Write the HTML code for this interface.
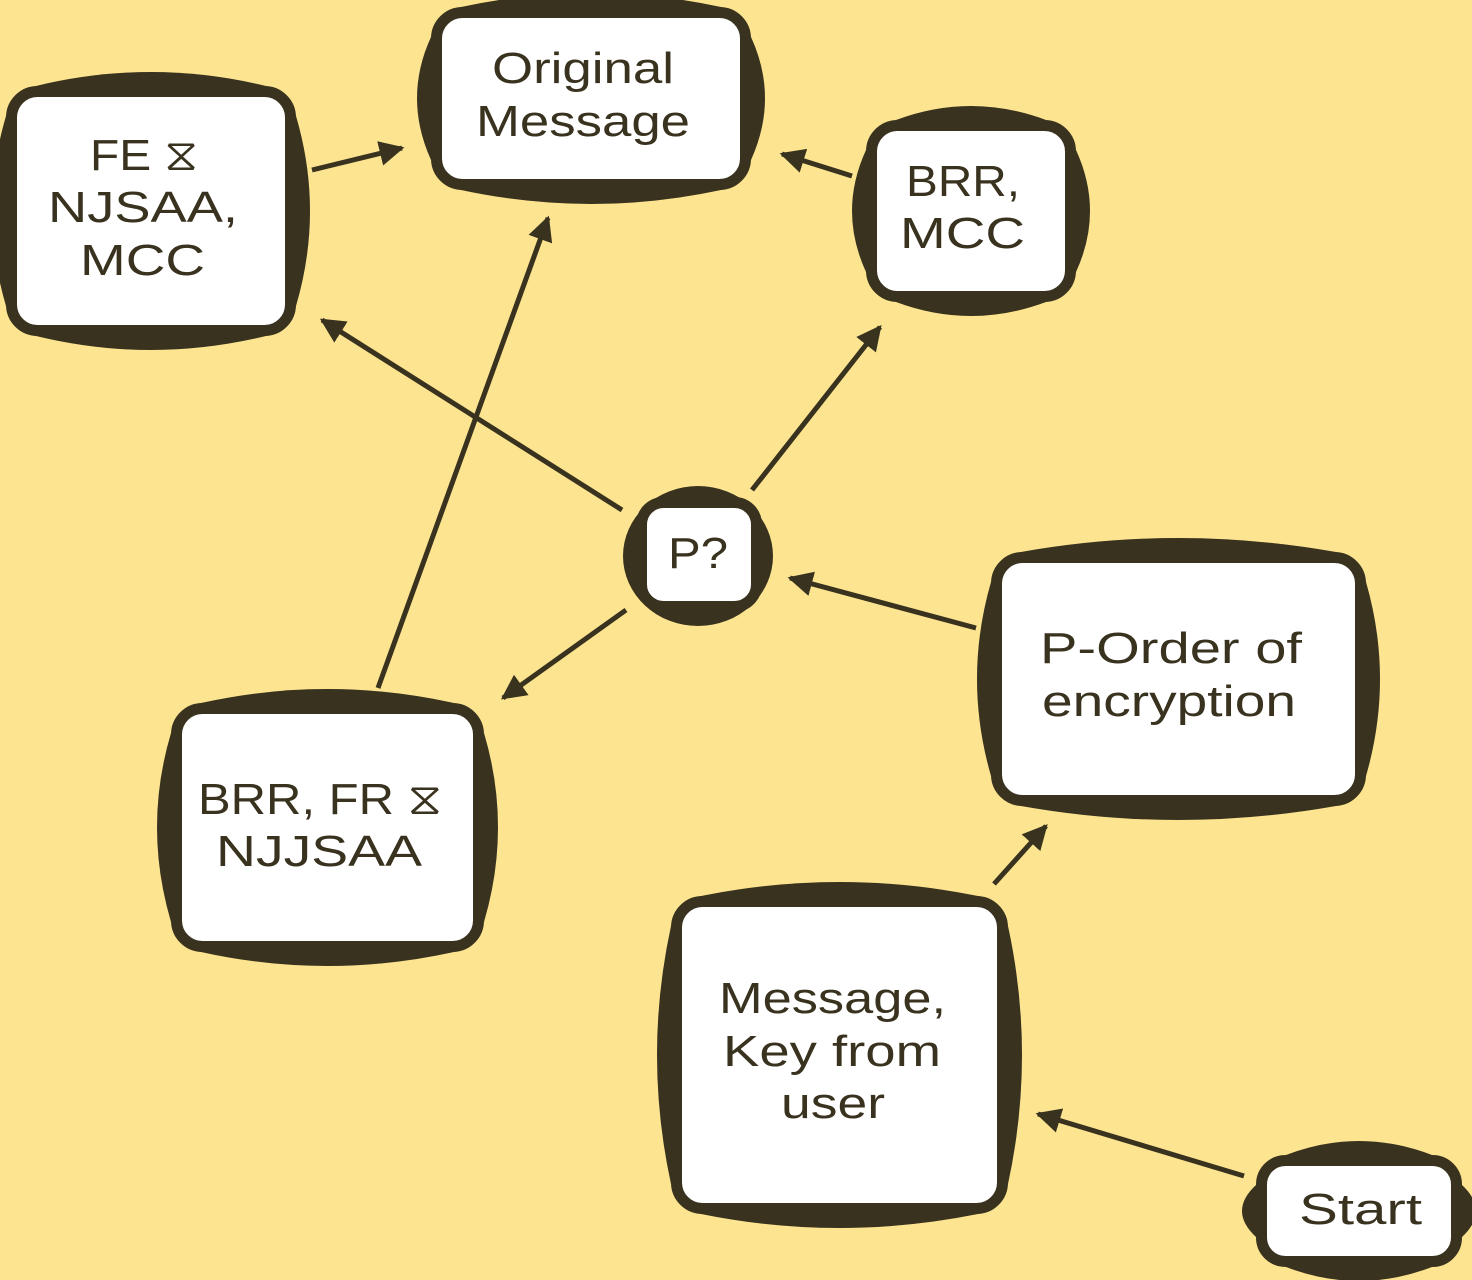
<!DOCTYPE html>
<html><head><meta charset="utf-8"><style>
html,body{margin:0;padding:0;background:#fde490;}
svg{display:block;}
text{font-family:"Liberation Sans","DejaVu Sans",sans-serif;font-size:44px;fill:#38321f;}
</style></head><body>
<svg width="1472" height="1280" viewBox="0 0 1472 1280" xmlns="http://www.w3.org/2000/svg">
<defs>
<marker id="a" markerWidth="6" markerHeight="6" refX="4.5" refY="3" orient="auto" markerUnits="strokeWidth">
<path d="M0,0.5 L5,3 L0,5.5 Z" fill="#38321f"/>
</marker>
</defs>
<rect width="1472" height="1280" fill="#fde490"/>
<g stroke="#38321f" stroke-width="5" marker-end="url(#a)">
<line x1="312" y1="170" x2="402" y2="148"/>
<line x1="852" y1="176" x2="782" y2="154"/>
<line x1="378" y1="688" x2="548" y2="218"/>
<line x1="622" y1="510" x2="322" y2="320"/>
<line x1="752" y1="490" x2="880" y2="327"/>
<line x1="626" y1="610" x2="503" y2="698"/>
<line x1="976" y1="628" x2="790" y2="578"/>
<line x1="994" y1="884" x2="1046" y2="826"/>
<line x1="1244" y1="1176" x2="1038" y2="1114"/>
</g>
<g fill="#38321f">
<path d="M36,86 Q151,58 266,86 L296,116 Q324,211 296,306 L266,336 Q151,364 36,336 L6,306 Q-22,211 6,116 Z"/>
<path d="M461,7 Q591,-21 721,7 L751,37 Q779,98 751,160 L721,190 Q591,218 461,190 L431,160 Q403,98 431,37 Z"/>
<path d="M896,120 Q971,92 1046,120 L1076,150 Q1104,211 1076,272 L1046,302 Q971,330 896,302 L866,272 Q838,211 866,150 Z"/>
<ellipse cx="698" cy="556" rx="75" ry="70"/>
<path d="M1021,552 Q1178,524 1336,552 L1366,582 Q1394,679 1366,776 L1336,806 Q1178,834 1021,806 L991,776 Q963,679 991,582 Z"/>
<path d="M201,703 Q327,675 454,703 L484,733 Q512,827 484,922 L454,952 Q327,980 201,952 L171,922 Q143,827 171,733 Z"/>
<path d="M701,896 Q839,868 978,896 L1008,926 Q1036,1055 1008,1184 L978,1214 Q839,1242 701,1214 L671,1184 Q643,1055 671,926 Z"/>
<path d="M1286,1155 Q1359,1127 1432,1155 L1462,1185 Q1490,1211 1462,1237 L1432,1267 Q1359,1295 1286,1267 L1256,1237 Q1228,1211 1256,1185 Z"/>
</g>
<g fill="#fff" stroke="#38321f" stroke-width="11">
<rect x="11.5" y="91.5" width="279" height="239" rx="26"/>
<rect x="436.5" y="12.5" width="309" height="172" rx="26"/>
<rect x="871.5" y="125.5" width="199" height="171" rx="26"/>
<rect x="641.5" y="502.5" width="115" height="104" rx="22"/>
<rect x="996.5" y="557.5" width="364" height="243" rx="26"/>
<rect x="176.5" y="708.5" width="302" height="238" rx="26"/>
<rect x="676.5" y="901.5" width="326" height="307" rx="26"/>
<rect x="1261.5" y="1160.5" width="195" height="101" rx="24"/>
</g>
<g>
<text x="90" y="170" textLength="108" lengthAdjust="spacingAndGlyphs">FE ⧖</text>
<text x="48" y="222" textLength="190" lengthAdjust="spacingAndGlyphs">NJSAA,</text>
<text x="80" y="275" textLength="125" lengthAdjust="spacingAndGlyphs">MCC</text>
<text x="492" y="83" textLength="182" lengthAdjust="spacingAndGlyphs">Original</text>
<text x="476" y="136" textLength="214" lengthAdjust="spacingAndGlyphs">Message</text>
<text x="906" y="196" textLength="114" lengthAdjust="spacingAndGlyphs">BRR,</text>
<text x="900" y="248" textLength="125" lengthAdjust="spacingAndGlyphs">MCC</text>
<text x="668" y="568" textLength="60" lengthAdjust="spacingAndGlyphs">P?</text>
<text x="1040" y="663" textLength="262" lengthAdjust="spacingAndGlyphs">P-Order of</text>
<text x="1042" y="716" textLength="254" lengthAdjust="spacingAndGlyphs">encryption</text>
<text x="198" y="814" textLength="244" lengthAdjust="spacingAndGlyphs">BRR, FR ⧖</text>
<text x="216" y="866" textLength="206" lengthAdjust="spacingAndGlyphs">NJJSAA</text>
<text x="719" y="1013" textLength="227" lengthAdjust="spacingAndGlyphs">Message,</text>
<text x="723" y="1066" textLength="218" lengthAdjust="spacingAndGlyphs">Key from</text>
<text x="781" y="1118" textLength="104" lengthAdjust="spacingAndGlyphs">user</text>
<text x="1299" y="1224" textLength="123" lengthAdjust="spacingAndGlyphs">Start</text>
</g>
</svg>
</body></html>
